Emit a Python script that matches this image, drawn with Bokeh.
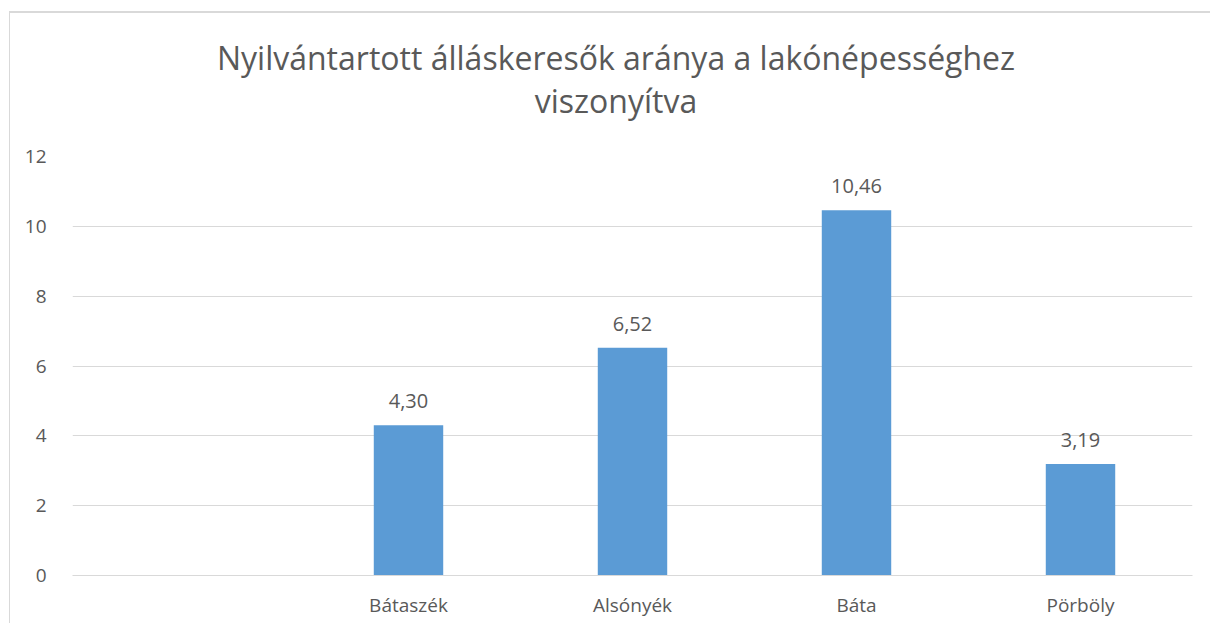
from bokeh.plotting import figure
from bokeh.models import ColumnDataSource, FactorRange, Div
from bokeh.layouts import column
from bokeh.core.properties import value
from bokeh.embed import file_html
from bokeh.resources import INLINE

slots = [" ", "Bátaszék", "Alsónyék", "Báta", "Pörböly"]
towns = ["Bátaszék", "Alsónyék", "Báta", "Pörböly"]
rates = [4.30, 6.52, 10.46, 3.19]
y_ticks = [0, 2, 4, 6, 8, 10, 12]
title_lines = ["Nyilvántartott álláskeresők aránya a lakónépességhez", "viszonyítva"]

FONT = "Open Sans"
TXT = "#595959"
GRID = "#d9d9d9"
BAR = "#5b9bd5"

labels = [f"{v:.2f}".replace(".", ",") for v in rates]
src = ColumnDataSource(dict(x=towns, y=rates, lab=labels))

title = Div(text="<br>".join(title_lines), width=1178, height=84,
            styles={"text-align": "center", "font-family": FONT, "font-size": "32px",
                    "color": TXT, "line-height": "43px", "padding-top": "18px",
                    "padding-left": "12px", "box-sizing": "content-box"})

p = figure(width=1190, height=498, x_range=FactorRange(*slots, range_padding=0),
           y_range=(0, 12), output_backend="svg", toolbar_location=None,
           min_border_left=62, min_border_right=8, min_border_top=31,
           min_border_bottom=48)

p.vbar(x="x", top="y", width=0.31, source=src, color=BAR, line_color=None)
p.text(x="x", y="y", text="lab", source=src, text_align="center",
       text_baseline="bottom", y_offset=-17, text_font=value(FONT),
       text_font_size="20px", text_color=TXT)

p.outline_line_color = None
p.xgrid.grid_line_color = None
p.ygrid.grid_line_color = GRID
p.ygrid.ticker = y_ticks
p.yaxis.ticker = y_ticks
p.yaxis.axis_line_color = None
p.yaxis.major_tick_line_color = None
p.yaxis.minor_tick_line_color = None
p.yaxis.major_label_standoff = 20
p.xaxis.axis_line_color = GRID
p.xaxis.major_tick_line_color = None
p.xaxis.major_label_standoff = 10
for ax in (p.xaxis, p.yaxis):
    ax.major_label_text_font = FONT
    ax.major_label_text_font_size = "19px"
    ax.major_label_text_color = TXT

layout = column(title, p, spacing=0)
layout.styles = {"border-left": "1px solid #d9d9d9", "border-top": "2px solid #d9d9d9",
                 "margin-top": "11px", "margin-left": "9px"}

open("out.html", "w").write(file_html(layout, INLINE))
